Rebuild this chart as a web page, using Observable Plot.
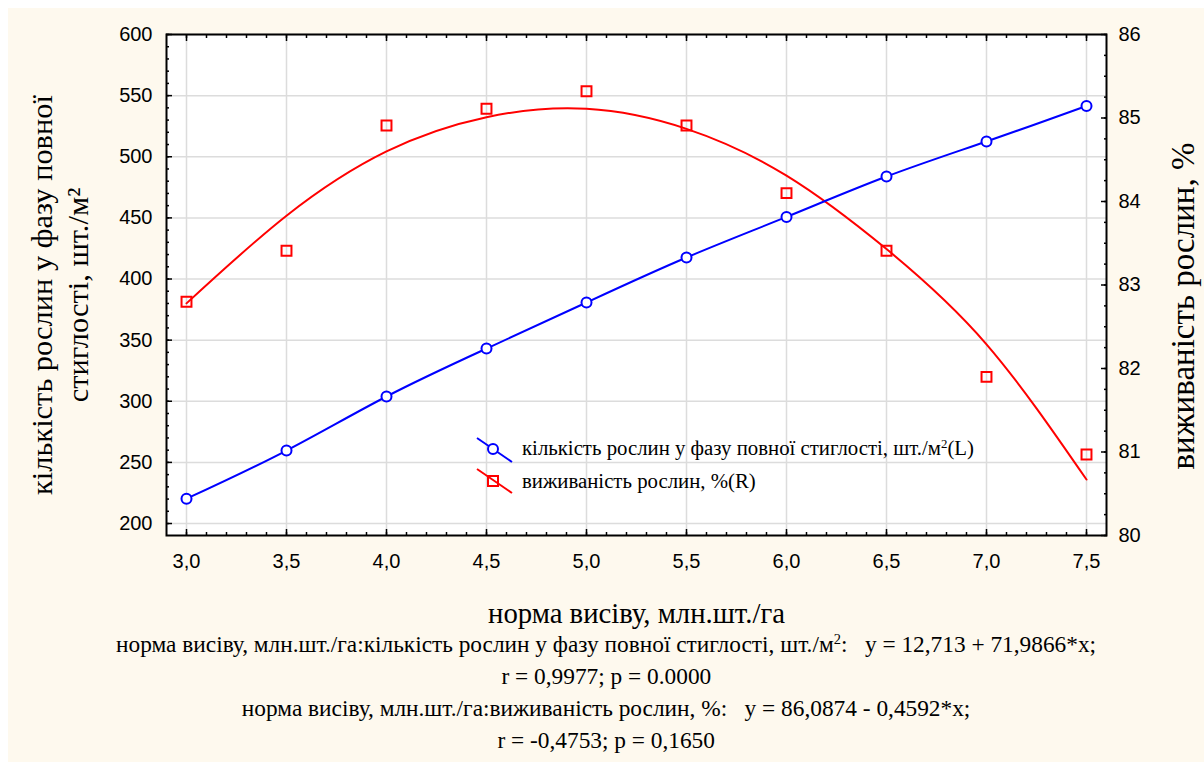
<!DOCTYPE html>
<html>
<head>
<meta charset="utf-8">
<script src="https://cdn.jsdelivr.net/npm/d3@7"></script>
<script src="https://cdn.jsdelivr.net/npm/@observablehq/plot@0.6"></script>
<style>
  html, body { margin: 0; padding: 0; background: #ffffff; }
  #wrap { position: absolute; left: 8px; top: 8px; width: 1196px; height: 754px; background: #FEF9EE; overflow: hidden; }
  #chart { position: absolute; left: 0; top: 0; }
  .leg { position: absolute; left: 514px; font-family: "Liberation Serif", "Times New Roman", serif; font-size: 20.8px; line-height: 28px; color: #000; white-space: nowrap; }
  .leg sup, .cap sup { font-size: 0.62em; line-height: 0; vertical-align: 0.55em; }
  #caption { position: absolute; left: 0; top: 621px; width: 1196px; text-align: center; font-family: "Liberation Serif", "Times New Roman", serif; font-size: 23px; line-height: 32px; color: #000; }
  .cap { display: inline-block; white-space: nowrap; transform-origin: 50% 50%; font-family: "Liberation Serif", serif; }
</style>
</head>
<body>
<div id="wrap">
  <div id="chart"></div>
  <svg id="legicons" style="position:absolute;left:465px;top:425px" width="45" height="75"></svg>
  <div class="leg" style="top:426px">кількість рослин у фазу повної стиглості, шт./м<sup>2</sup>(L)</div>
  <div class="leg" style="top:459px">виживаність рослин, %(R)</div>
  <div id="caption">
    <div><span class="cap">норма висіву, млн.шт./га:кількість рослин у фазу повної стиглості, шт./м<sup>2</sup>:&nbsp;&nbsp;&nbsp;y = 12,713 + 71,9866*x;</span></div>
    <div><span class="cap">r = 0,9977; p = 0.0000</span></div>
    <div><span class="cap">норма висіву, млн.шт./га:виживаність рослин, %:&nbsp;&nbsp;&nbsp;y = 86,0874 - 0,4592*x;</span></div>
    <div><span class="cap">r = -0,4753; p = 0,1650</span></div>
  </div>
</div>
<script>
// ---- data ----
const norm = [3.0, 3.5, 4.0, 4.5, 5.0, 5.5, 6.0, 6.5, 7.0, 7.5];
const plantsL = [220.3, 259.7, 303.9, 343.1, 380.8, 417.6, 450.8, 483.8, 512.5, 541.6];
const survivalR = [82.80, 83.41, 84.91, 85.11, 85.32, 84.91, 84.10, 83.41, 81.90, 80.97];
const fitX = [3.0, 3.5, 4.0, 4.5, 5.0, 5.5, 6.0, 6.5, 7.0, 7.5];
const fitR = [82.78, 83.83, 84.60, 85.01, 85.11, 84.87, 84.31, 83.43, 82.29, 80.67];
const xTicks = [3.0, 3.5, 4.0, 4.5, 5.0, 5.5, 6.0, 6.5, 7.0, 7.5];
const leftTicks = [200, 250, 300, 350, 400, 450, 500, 550, 600];
const rightTicks = [80, 81, 82, 83, 84, 85, 86];
const xTitle = "норма висіву, млн.шт./га";
const leftTitle1 = "кількість рослин у фазу повної";
const leftTitle2 = "стиглості, шт./м²";
const rightTitle = "виживаність рослин, %";

// ---- scales ----
const L0 = 190.2, L1 = 600, R0 = 80, R1 = 86;
const toL = r => L0 + (r - R0) * (L1 - L0) / (R1 - R0);
const fromL = v => R0 + (v - L0) * (R1 - R0) / (L1 - L0);

const pts = norm.map((x, i) => ({x, L: plantsL[i], R: survivalR[i]}));
const fit = fitX.map((x, i) => ({x, R: fitR[i]}));

const xMinor = d3.range(30, 76).map(i => i / 10);
const leftMinor = d3.range(200, 601, 10);
const rightMinor = d3.range(0, 25).map(i => toL(80 + i * 0.25));

const sans = "Liberation Sans, Arial, sans-serif";
const serifCss = '"Liberation Serif", "Times New Roman", serif';
const blank = () => "";
const titleStyle = {textAnchor: "middle", lineAnchor: "middle", fontSize: 26, fill: "#000"};

const chart = Plot.plot({
  width: 1196,
  height: 620,
  marginLeft: 158,
  marginRight: 98,
  marginTop: 26,
  marginBottom: 93,
  x: {domain: [2.9, 7.6]},
  y: {domain: [L0, L1]},
  style: {background: "transparent", color: "#000", overflow: "visible"},
  marks: [
    Plot.frame({fill: "white", stroke: null}),
    Plot.gridX(xTicks, {stroke: "#dcdcdc", strokeOpacity: 1, strokeWidth: 1.5}),
    Plot.gridY(leftTicks, {stroke: "#dcdcdc", strokeOpacity: 1, strokeWidth: 1.5}),
    // inward ticks
    Plot.axisX(xMinor, {anchor: "bottom", tickSize: -3, tickFormat: blank, label: null, strokeWidth: 1.5}),
    Plot.axisX(xTicks, {anchor: "bottom", tickSize: -6, tickFormat: blank, label: null, strokeWidth: 1.5}),
    Plot.axisX(xMinor, {anchor: "top", tickSize: -3, tickFormat: blank, label: null, strokeWidth: 1.5}),
    Plot.axisX(xTicks, {anchor: "top", tickSize: -6, tickFormat: blank, label: null, strokeWidth: 1.5}),
    Plot.axisY(leftMinor, {anchor: "left", tickSize: -3, tickFormat: blank, label: null, strokeWidth: 1.5}),
    Plot.axisY(leftTicks, {anchor: "left", tickSize: -6, tickFormat: blank, label: null, strokeWidth: 1.5}),
    Plot.axisY(rightMinor, {anchor: "right", tickSize: -3, tickFormat: blank, label: null, strokeWidth: 1.5}),
    Plot.axisY(rightTicks.map(toL), {anchor: "right", tickSize: -6, tickFormat: blank, label: null, strokeWidth: 1.5}),
    // tick labels
    Plot.axisX(xTicks, {anchor: "bottom", tickSize: 0, tickPadding: 18, label: null,
      tickFormat: d => d.toFixed(1).replace(".", ","), fontSize: 20, fontFamily: sans}),
    Plot.axisY(leftTicks, {anchor: "left", tickSize: 0, tickPadding: 14, label: null,
      tickFormat: d => String(d), fontSize: 20, fontFamily: sans}),
    Plot.axisY(rightTicks.map(toL), {anchor: "right", tickSize: 0, tickPadding: 12, label: null,
      tickFormat: v => String(Math.round(fromL(v))), fontSize: 20, fontFamily: sans}),
    // data
    Plot.line(fit, {x: "x", y: d => toL(d.R), stroke: "#ff0000", strokeWidth: 2, curve: "natural"}),
    Plot.line(pts, {x: "x", y: "L", stroke: "#0000ff", strokeWidth: 2, curve: "natural"}),
    Plot.dot(pts, {x: "x", y: "L", r: 5, stroke: "#0000ff", strokeWidth: 2, fill: "white"}),
    Plot.dot(pts, {x: "x", y: d => toL(d.R), symbol: "square", r: 5.6, stroke: "#ff0000", strokeWidth: 2, fill: "none"}),
    // frame
    Plot.frame({stroke: "#000", strokeWidth: 2}),
    // titles
    Plot.text([xTitle], {text: d => d, frameAnchor: "bottom", dy: 78, ...titleStyle}),
    Plot.text([leftTitle1], {text: d => d, frameAnchor: "left", rotate: -90, dx: -124, dy: 10, ...titleStyle}),
    Plot.text([leftTitle2], {text: d => d, frameAnchor: "left", rotate: -90, dx: -88, dy: 10, ...titleStyle}),
    Plot.text([rightTitle], {text: d => d, frameAnchor: "right", rotate: -90, dx: 77, dy: 21, ...titleStyle})
  ]
});
document.getElementById("chart").appendChild(chart);

// serif titles, sized to match the reference text lengths
const texts = Array.from(chart.querySelectorAll("text"));
function fitTitle(str, target, sizeFrom) {
  const t = texts.find(e => e.textContent === str);
  if (!t) return null;
  t.style.fontFamily = serifCss;
  t.style.fontSize = "26px";
  let size = sizeFrom;
  if (size == null) {
    const w = t.getComputedTextLength();
    size = 26 * target / w;
  }
  t.style.fontSize = size + "px";
  return size;
}
fitTitle(xTitle, 297);
const ls = fitTitle(leftTitle1, 400);
fitTitle(leftTitle2, 0, ls);
fitTitle(rightTitle, 327);

// legend icons
const ns = "http://www.w3.org/2000/svg";
const icons = document.getElementById("legicons");
function el(tag, attrs) { const e = document.createElementNS(ns, tag); for (const k in attrs) e.setAttribute(k, attrs[k]); icons.appendChild(e); return e; }
el("line", {x1: 4, y1: 5, x2: 39, y2: 29, stroke: "#0000ff", "stroke-width": 2});
el("circle", {cx: 20, cy: 16, r: 5, stroke: "#0000ff", "stroke-width": 2, fill: "white"});
el("line", {x1: 4, y1: 36, x2: 39, y2: 60, stroke: "#ff0000", "stroke-width": 2});
el("rect", {x: 15, y: 43, width: 10, height: 10, stroke: "#ff0000", "stroke-width": 2, fill: "none"});

// condensed caption
const caps = document.querySelectorAll(".cap");
const w0 = caps[0].getBoundingClientRect().width;
const s = 980 / w0;
caps.forEach(c => c.style.transform = `scaleX(${s})`);
</script>
</body>
</html>
